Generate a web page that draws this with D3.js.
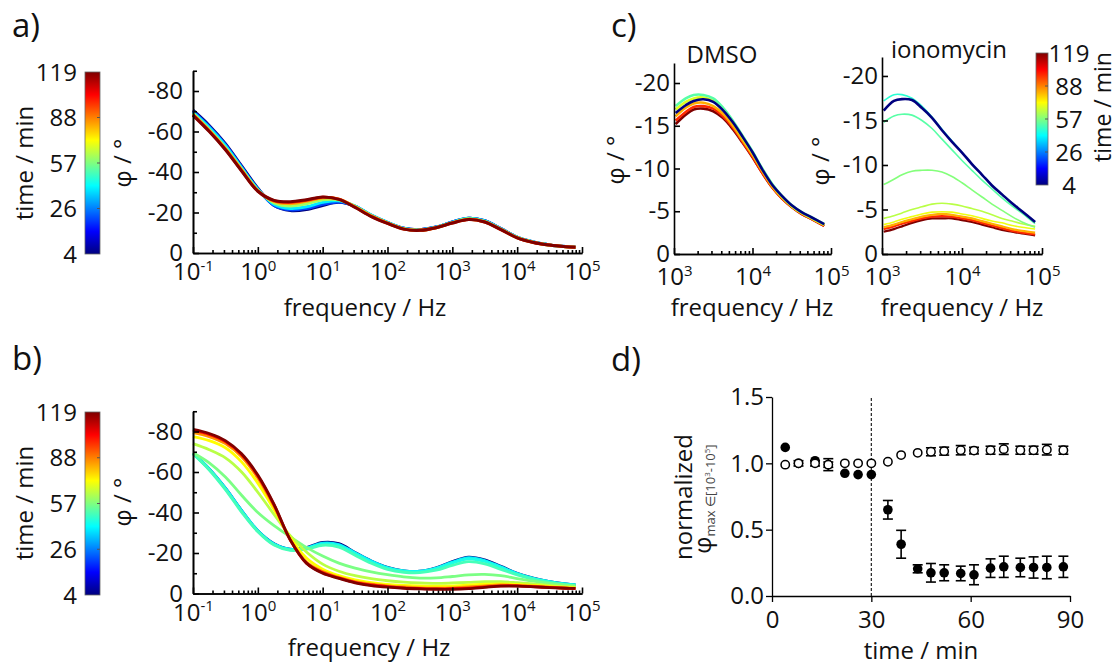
<!DOCTYPE html>
<html>
<head>
<meta charset="utf-8">
<script src="https://cdn.jsdelivr.net/npm/d3@7"></script>
<style>
  body { margin: 0; background: #fff; }
  text { font-family: "Open Sans", sans-serif; fill: #111; }
  .ax text { font-size: 24px; font-family: "Open Sans", sans-serif; fill: #111; }
  .ax .sup { font-size: 15px; }
  .ax path, .ax line { stroke: #000; stroke-width: 1.6; }
  .lab { font-size: 24px; }
  .plab { font-size: 33px; }
</style>
</head>
<body>
<svg id="fig" width="1118" height="665"></svg>
<script>
// ---- data ----
// time colour scale (jet), min
const tMin = 4, tMax = 119;
const barTicks = [119, 88, 57, 26, 4];

// frequencies for the full spectra (a, b), Hz
const freqFull = [0.1, 0.178, 0.316, 0.562, 1, 1.78, 3.16, 5.62, 10, 17.8, 31.6, 56.2, 100, 178, 316, 562,
  1000, 1780, 3160, 5620, 10000, 17800, 31600, 56200, 79400];

// a) phase / deg, one array per measurement time
const a_t4   = [-70.5, -63, -54, -43, -32, -23.5, -21, -21.5, -23.5, -25, -23, -18.5, -15, -12.2, -11.5, -12.8, -15.3, -17.2, -16, -12, -7.8, -5.4, -4, -3.2, -2.9];
const a_t26  = [-70, -62.5, -53.5, -42.5, -31.5, -23.5, -21.3, -22, -24, -25.2, -23.2, -18.7, -15.1, -12.2, -11.5, -12.8, -15.3, -17.2, -16, -12, -7.8, -5.4, -4, -3.2, -2.9];
const a_t45  = [-69.5, -62, -53, -42, -31.5, -24, -22, -22.8, -25, -25.8, -23.2, -18.7, -15.1, -12.1, -11.4, -12.7, -15.2, -17.1, -15.8, -11.9, -7.8, -5.4, -4, -3.2, -2.9];
const a_t65  = [-69, -61, -52, -41.5, -31, -24.8, -23.2, -24.3, -26.3, -26.3, -23, -18.5, -14.9, -12, -11.3, -12.6, -15, -16.9, -15.6, -11.8, -7.7, -5.3, -3.9, -3.1, -2.8];
const a_t85  = [-68.5, -60.5, -51.5, -41, -30.8, -25.5, -24.3, -25.5, -27.2, -26.6, -22.8, -18.3, -14.8, -11.9, -11.2, -12.5, -14.9, -16.7, -15.4, -11.6, -7.6, -5.2, -3.9, -3.1, -2.8];
const a_t100 = [-68.2, -60.2, -51.2, -40.7, -30.6, -25.8, -25, -26, -27.5, -26.6, -22.6, -18.1, -14.7, -11.8, -11.2, -12.5, -14.8, -16.6, -15.3, -11.5, -7.5, -5.2, -3.9, -3.1, -2.8];
const a_t119 = [-68, -60, -51, -40.5, -30.5, -26, -25.3, -26.3, -27.7, -26.5, -22.5, -18, -14.6, -11.8, -11.2, -12.5, -14.8, -16.5, -15.3, -11.5, -7.5, -5.2, -3.9, -3.1, -2.8];

// b) phase / deg
const b_t4   = [-69.2, -61.5, -52, -41, -31, -24.6, -21.9, -22.7, -25.2, -24.6, -20.3, -16.1, -12.9, -11.2, -11, -12.7, -15.8, -18, -16.6, -13.4, -10, -7.6, -5.9, -4.7, -4.3];
const b_t45  = [-69.2, -61.5, -52, -41, -31, -24.5, -21.8, -22.5, -24.9, -24.2, -20.1, -16, -12.8, -11.2, -11, -12.6, -15.5, -17.7, -16.3, -13.2, -9.9, -7.5, -5.9, -4.7, -4.3];
const b_t50  = [-69.2, -61.3, -51.7, -40.6, -30.8, -24.2, -21.6, -22.2, -24.4, -23.7, -19.7, -15.6, -12.5, -11, -10.8, -12.3, -15, -17.1, -15.8, -12.8, -9.7, -7.4, -5.8, -4.6, -4.2];
const b_t55  = [-69, -61, -51.3, -40.2, -30.5, -23.9, -21.3, -21.9, -23.8, -22.9, -18.9, -14.9, -11.9, -10.5, -10.3, -11.5, -13.9, -15.7, -14.6, -11.9, -9.2, -7, -5.5, -4.4, -4];
const b_t61  = [-69.5, -64.5, -57.5, -48.5, -40, -33.5, -28, -22.8, -18.5, -15, -12.5, -10.7, -9.3, -8.2, -7.6, -7.7, -8.4, -9.2, -9.4, -8.8, -7.4, -6.1, -5, -4.1, -3.7];
const b_t68  = [-74, -71, -67, -60, -50, -39, -28.5, -20.5, -14.5, -11, -8.8, -7.3, -6.3, -5.6, -5.2, -5, -5.2, -5.5, -5.8, -5.8, -5.3, -4.7, -4, -3.4, -3.1];
const b_t76  = [-77.5, -75.5, -72, -65, -54.5, -41.5, -27.5, -17.5, -12, -8.8, -6.7, -5.4, -4.5, -4, -3.7, -3.6, -3.8, -4.2, -4.6, -4.8, -4.5, -4, -3.5, -3, -2.8];
const b_t88  = [-79.5, -77.5, -74, -67.5, -57, -43, -26.5, -15.5, -10.8, -8, -5.9, -4.6, -3.8, -3.2, -2.8, -2.7, -2.8, -3.2, -3.8, -4.2, -4, -3.6, -3.1, -2.7, -2.5];
const b_t104 = [-80.5, -78.5, -75, -68.5, -58, -43.7, -26.5, -15, -10.3, -7.7, -5.5, -4.2, -3.4, -2.8, -2.5, -2.3, -2.4, -2.7, -3.3, -3.8, -3.8, -3.4, -3, -2.6, -2.4];
const b_t119 = [-81, -79, -75.5, -69, -58.5, -44, -26.5, -15, -10, -7.5, -5.3, -3.9, -3.1, -2.6, -2.3, -2.1, -2.1, -2.4, -3, -3.6, -3.6, -3.3, -2.9, -2.6, -2.5];

// c) high-frequency window, Hz
const freqHigh = [1050, 1410, 1780, 2370, 3160, 4220, 5620, 7500, 10000, 13300, 17800, 23700, 31600, 42200, 56200, 82000];
const dmso_t4   = [-16.5, -17.4, -17.9, -18.1, -17.8, -16.8, -15.4, -13.7, -11.9, -9.9, -8.1, -6.8, -5.7, -4.9, -4.3, -3.5];
const dmso_t57  = [-17.3, -18.2, -18.6, -18.6, -18.2, -17.1, -15.6, -13.8, -12, -10, -8.2, -6.8, -5.7, -4.9, -4.3, -3.5];
const dmso_t72  = [-16.9, -17.8, -18.2, -18.3, -17.9, -16.9, -15.4, -13.6, -11.8, -9.9, -8.1, -6.7, -5.6, -4.8, -4.2, -3.4];
const dmso_t85  = [-16.1, -17.1, -17.6, -17.7, -17.3, -16.4, -15, -13.3, -11.6, -9.7, -7.9, -6.6, -5.6, -4.8, -4.2, -3.4];
const dmso_t100 = [-15.6, -16.6, -17.2, -17.3, -17, -16.1, -14.8, -13.1, -11.4, -9.5, -7.8, -6.5, -5.5, -4.7, -4.1, -3.3];
const dmso_t119 = [-15.2, -16.3, -16.9, -17, -16.7, -15.9, -14.6, -13, -11.3, -9.5, -7.8, -6.5, -5.5, -4.7, -4.1, -3.3];

const iono_t4   = [-16.1, -17.2, -17.4, -17.3, -16.4, -15.3, -13.9, -12.6, -11.4, -10.1, -8.9, -7.7, -6.7, -5.7, -4.8, -3.6];
const iono_t52  = [-17.2, -17.9, -17.9, -17.5, -16.6, -15.4, -14, -12.7, -11.4, -10.1, -8.9, -7.7, -6.7, -5.7, -4.8, -3.6];
const iono_t57  = [-14.8, -15.5, -15.7, -15.6, -15, -14.1, -12.9, -11.7, -10.5, -9.4, -8.3, -7.3, -6.3, -5.4, -4.6, -3.4];
const iono_t62  = [-7.8, -8.4, -8.9, -9.3, -9.4, -9.4, -9.2, -8.7, -8, -7.2, -6.4, -5.6, -4.9, -4.2, -3.6, -3];
const iono_t68  = [-4, -4.3, -4.6, -5, -5.3, -5.6, -5.7, -5.6, -5.4, -5.1, -4.8, -4.4, -4, -3.7, -3.4, -3.1];
const iono_t74  = [-3.3, -3.6, -3.9, -4.2, -4.5, -4.7, -4.75, -4.7, -4.5, -4.3, -4, -3.7, -3.5, -3.2, -3, -2.8];
const iono_t85  = [-3, -3.3, -3.6, -3.9, -4.2, -4.4, -4.5, -4.4, -4.2, -4, -3.7, -3.4, -3.1, -2.8, -2.6, -2.4];
const iono_t100 = [-2.8, -3.1, -3.4, -3.7, -4, -4.2, -4.25, -4.2, -4, -3.8, -3.5, -3.2, -2.9, -2.6, -2.4, -2.2];
const iono_t119 = [-2.5, -2.8, -3.1, -3.5, -3.8, -4, -4, -4, -3.8, -3.6, -3.3, -3, -2.7, -2.5, -2.3, -2.1];

// d) normalized phase maximum over time
const timeD   = [4, 8, 13, 17, 22, 26, 30, 35, 39, 44, 48, 52, 57, 61, 66, 70, 75, 79, 83, 88];
const ionoMax = [1.12, 1.0, 1.02, 0.99, 0.925, 0.915, 0.915, 0.65, 0.39, 0.205, 0.175, 0.175, 0.17, 0.16, 0.21, 0.22, 0.215, 0.215, 0.215, 0.22];
const ionoErr = [0, 0, 0, 0.02, 0, 0, 0, 0.07, 0.105, 0.03, 0.07, 0.06, 0.055, 0.075, 0.07, 0.08, 0.07, 0.08, 0.085, 0.08];
const dmsoMax = [0.99, 1.0, 1.0, 0.99, 1.0, 1.0, 1.0, 1.012, 1.062, 1.079, 1.087, 1.092, 1.099, 1.096, 1.099, 1.107, 1.099, 1.099, 1.103, 1.099];
const dmsoErr = [0, 0.02, 0.02, 0.045, 0, 0, 0, 0, 0, 0, 0.03, 0.03, 0.035, 0.025, 0.03, 0.04, 0.03, 0.03, 0.04, 0.03];

// ---- setup ----
const svg = d3.select("#fig");
const defs = svg.append("defs");

const jetStops = [0, 0.125, 0.375, 0.625, 0.875, 1];
const jetColors = ["#00007f", "#0000ff", "#00ffff", "#ffff00", "#ff0000", "#7f0000"];
const color = d3.scaleLinear()
  .domain(jetStops.map(s => tMin + s * (tMax - tMin)))
  .range(jetColors);

function curves(ts, arrs) {
  return ts.map((t, i) => ({ t: t, phi: arrs[i] }));
}

// colour bar with evenly spaced labels
function colorbar(id, x, y, w, h, labelX, anchor) {
  const grad = defs.append("linearGradient").attr("id", id)
    .attr("x1", 0).attr("y1", 1).attr("x2", 0).attr("y2", 0);
  grad.selectAll("stop").data(jetStops).join("stop")
    .attr("offset", d => d)
    .attr("stop-color", (d, i) => jetColors[i]);
  svg.append("rect").attr("x", x).attr("y", y).attr("width", w).attr("height", h)
    .attr("fill", `url(#${id})`).attr("stroke", "#666").attr("stroke-width", 0.8);
  const pos = d3.scalePoint().domain(barTicks).range([y, y + h]);
  svg.selectAll(null).data(barTicks.slice(1, -1)).join("line")
    .attr("x1", x + w - 3).attr("x2", x + w)
    .attr("y1", d => pos(d)).attr("y2", d => pos(d))
    .attr("stroke", "#555").attr("stroke-width", 1);
  svg.selectAll(null).data(barTicks).join("text")
    .attr("class", "lab")
    .attr("x", labelX).attr("y", d => pos(d))
    .attr("dy", "0.36em")
    .attr("text-anchor", anchor)
    .text(d => d);
}

function rotLabel(x, y, txt, size) {
  svg.append("text").attr("class", "lab")
    .attr("transform", `translate(${x},${y}) rotate(-90)`)
    .style("font-size", size ? size + "px" : null)
    .attr("text-anchor", "middle").text(txt);
}

function spectra(cfg) {
  const g = svg.append("g");
  const x = d3.scaleLog().domain(cfg.xDomain).range(cfg.xRange);
  const y = d3.scaleLinear().domain(cfg.yDomain).range(cfg.yRange);
  const line = d3.line()
    .x(d => x(d[0]))
    .y(d => y(d[1]))
    .curve(d3.curveCatmullRom.alpha(0.5));

  const base = cfg.yRange[0], left = cfg.xRange[0];
  const decades = d3.range(Math.round(Math.log10(cfg.xDomain[0])), Math.round(Math.log10(cfg.xDomain[1])) + 1)
    .map(e => Math.pow(10, e));
  const minor = [];
  decades.slice(0, -1).forEach(dv => { for (let k = 2; k < 10; k++) minor.push(k * dv); });

  g.selectAll("path.curve").data(cfg.curves).join("path")
    .attr("class", "curve")
    .attr("fill", "none")
    .attr("stroke", c => color(c.t))
    .attr("stroke-width", c => c.w || cfg.lw)
    .attr("stroke-linejoin", "round")
    .attr("d", c => line(d3.zip(cfg.freq, c.phi)));

  g.append("g").attr("class", "ax").attr("transform", `translate(0,${base})`)
    .call(d3.axisBottom(x).tickValues(minor).tickSize(-3).tickSizeOuter(0).tickFormat(""));
  const xa = g.append("g").attr("class", "ax").attr("transform", `translate(0,${base})`)
    .call(d3.axisBottom(x).tickValues(decades).tickSize(-6).tickSizeOuter(0).tickPadding(cfg.xPad).tickFormat(""));
  xa.selectAll(".tick text").each(function(d) {
    const t = d3.select(this);
    t.append("tspan").text("10");
    t.append("tspan").attr("class", "sup").attr("dy", "-0.62em").text(String(Math.round(Math.log10(d))));
  });

  if (cfg.yMinor) {
    g.append("g").attr("class", "ax").attr("transform", `translate(${left},0)`)
      .call(d3.axisLeft(y).tickValues(cfg.yMinor).tickSize(-4).tickSizeOuter(0).tickFormat(""));
  }
  g.append("g").attr("class", "ax").attr("transform", `translate(${left},0)`)
    .call(d3.axisLeft(y).tickValues(cfg.yTicks).tickSize(-6).tickSizeOuter(0).tickPadding(cfg.yPad)
      .tickFormat(d => String(d)));

  svg.append("text").attr("class", "lab").attr("x", cfg.xLab[0]).attr("y", cfg.xLab[1])
    .attr("text-anchor", "middle").text("frequency / Hz");
  rotLabel(cfg.yLab[0], cfg.yLab[1], "φ / °");
  if (cfg.title) {
    svg.append("text").attr("class", "lab").attr("x", cfg.title[0]).attr("y", cfg.title[1])
      .attr("text-anchor", "middle").text(cfg.title[2]);
  }
}

// panel letters
[["a)", 12, 37], ["b)", 12, 370], ["c)", 611, 37], ["d)", 611, 371]].forEach(p => {
  svg.append("text").attr("class", "plab").attr("x", p[1]).attr("y", p[2]).text(p[0]);
});

// ---- a) ----
colorbar("cbA", 85, 72, 15, 182, 77, "end");
rotLabel(33, 163, "time / min");
spectra({
  freq: freqFull, xDomain: [0.1, 1e5], xRange: [193, 582],
  yDomain: [0, -90], yRange: [253, 70.75],
  yTicks: [0, -20, -40, -60, -80], yMinor: [-10, -30, -50, -70, -90],
  xPad: 10, yPad: 10, lw: 3,
  curves: curves([4, 26, 45, 65, 85, 100, 119], [a_t4, a_t26, a_t45, a_t65, a_t85, a_t100, a_t119]),
  xLab: [365, 316], yLab: [131, 163]
});

// ---- b) ----
colorbar("cbB", 85, 412, 15, 183, 77, "end");
rotLabel(33, 503, "time / min");
spectra({
  freq: freqFull, xDomain: [0.1, 1e5], xRange: [193, 582],
  yDomain: [0, -90], yRange: [593.5, 411.25],
  yTicks: [0, -20, -40, -60, -80], yMinor: [-10, -30, -50, -70, -90],
  xPad: 10, yPad: 10, lw: 2.8,
  curves: curves([4, 45, 50, 55, 61, 68, 76, 88, 104, 119],
    [b_t4, b_t45, b_t50, b_t55, b_t61, b_t68, b_t76, b_t88, b_t104, b_t119]),
  xLab: [369, 656], yLab: [131, 502]
});

// ---- c) ----
spectra({
  freq: freqHigh, xDomain: [1e3, 1e5], xRange: [674, 831],
  yDomain: [0, -22.34], yRange: [254, 63],
  yTicks: [0, -5, -10, -15, -20],
  xPad: 14, yPad: 4, lw: 2.6,
  curves: curves([119, 100, 85, 72, 57, 4], [dmso_t119, dmso_t100, dmso_t85, dmso_t72, dmso_t57, dmso_t4]),
  xLab: [752, 316], yLab: [624, 160], title: [722, 63, "DMSO"]
});
const ionoCurves = curves([119, 100, 85, 74, 68, 62, 57, 52, 4],
  [iono_t119, iono_t100, iono_t85, iono_t74, iono_t68, iono_t62, iono_t57, iono_t52, iono_t4]);
ionoCurves.forEach(c => { c.w = c.t === 4 ? 2.6 : (c.t >= 85 ? 2.2 : 1.6); });
spectra({
  freq: freqHigh, xDomain: [1e3, 1e5], xRange: [882, 1042],
  yDomain: [0, -22.13], yRange: [254, 57],
  yTicks: [0, -5, -10, -15, -20],
  xPad: 14, yPad: 4, lw: 1.6,
  curves: ionoCurves,
  xLab: [962, 316], yLab: [829, 161], title: [949, 58, "ionomycin"]
});
colorbar("cbC", 1036, 53, 12, 132, 1069, "middle");
rotLabel(1111, 107, "time / min", 23);

// ---- d) ----
const gd = svg.append("g");
const xd = d3.scaleLinear().domain([0, 90]).range([772, 1070]);
const yd = d3.scaleLinear().domain([0, 1.5]).range([596, 397]);

gd.append("line")
  .attr("x1", xd(30)).attr("x2", xd(30)).attr("y1", yd(0)).attr("y2", yd(1.5))
  .attr("stroke", "#222").attr("stroke-width", 1.2).attr("stroke-dasharray", "3,2");

function errBars(vals, errs) {
  const pts = timeD.map((t, i) => ({ t: t, v: vals[i], e: errs[i] })).filter(p => p.e > 0);
  const eb = gd.append("g").attr("stroke", "#000").attr("stroke-width", 1.6);
  eb.selectAll(null).data(pts).join("line")
    .attr("x1", p => xd(p.t)).attr("x2", p => xd(p.t))
    .attr("y1", p => yd(p.v - p.e)).attr("y2", p => yd(p.v + p.e));
  [1, -1].forEach(s => {
    eb.selectAll(null).data(pts).join("line")
      .attr("x1", p => xd(p.t) - 5).attr("x2", p => xd(p.t) + 5)
      .attr("y1", p => yd(p.v + s * p.e)).attr("y2", p => yd(p.v + s * p.e));
  });
}

errBars(ionoMax, ionoErr);
gd.selectAll("circle.iono").data(timeD).join("circle")
  .attr("class", "iono")
  .attr("cx", d => xd(d)).attr("cy", (d, i) => yd(ionoMax[i])).attr("r", 4.8)
  .attr("fill", "#000");
errBars(dmsoMax, dmsoErr);
gd.selectAll("circle.dmso").data(timeD).join("circle")
  .attr("class", "dmso")
  .attr("cx", d => xd(d)).attr("cy", (d, i) => yd(dmsoMax[i])).attr("r", 4.2)
  .attr("fill", "#fff").attr("stroke", "#000").attr("stroke-width", 1.5);

gd.append("g").attr("class", "ax").attr("transform", `translate(0,${yd(0)})`)
  .call(d3.axisBottom(xd).tickValues([0, 30, 60, 90]).tickSize(6).tickSizeOuter(0).tickPadding(9));
gd.append("g").attr("class", "ax").attr("transform", `translate(${xd(0)},0)`)
  .call(d3.axisLeft(yd).tickValues([0, 0.5, 1, 1.5]).tickSize(6).tickSizeOuter(0).tickPadding(2)
    .tickFormat(d3.format(".1f")));
gd.selectAll(".ax path, .ax line").style("stroke-width", 1.3);

svg.append("text").attr("class", "lab").attr("x", 921).attr("y", 659)
  .attr("text-anchor", "middle").text("time / min");
rotLabel(692, 497, "normalized");
const sub = svg.append("text")
  .attr("transform", "translate(711,499) rotate(-90)")
  .attr("text-anchor", "middle");
sub.append("tspan").style("font-size", "24px").text("φ");
sub.append("tspan").style("font-size", "13px").style("fill", "#444").attr("dy", 4).text("max ∈[10");
sub.append("tspan").style("font-size", "8px").style("fill", "#444").attr("dy", -5).text("3");
sub.append("tspan").style("font-size", "13px").style("fill", "#444").attr("dy", 5).text("-10");
sub.append("tspan").style("font-size", "8px").style("fill", "#444").attr("dy", -5).text("5");
sub.append("tspan").style("font-size", "13px").style("fill", "#444").attr("dy", 5).text("]");
</script>
</body>
</html>
